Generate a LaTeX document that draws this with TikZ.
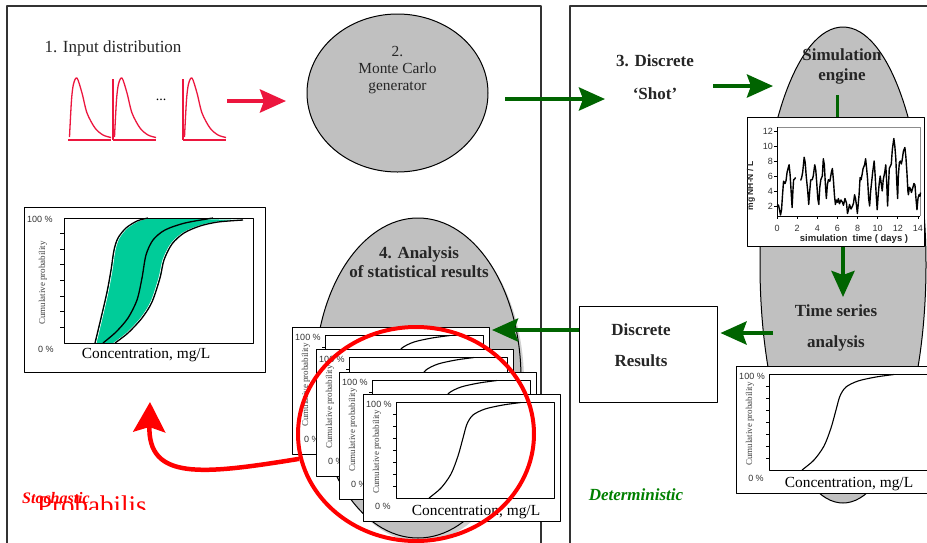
\documentclass[tikz,border=0pt]{standalone}
\usepackage{fontspec}
\setmainfont{Liberation Serif}
\setsansfont{Liberation Sans}
\usetikzlibrary{arrows.meta,shapes.geometric}
\definecolor{pulsered}{RGB}{236,22,62}
\definecolor{hotred}{RGB}{255,0,0}
\definecolor{darkgrn}{RGB}{0,100,0}
\definecolor{detgrn}{RGB}{0,128,0}
\definecolor{blobgray}{RGB}{192,192,192}
\definecolor{bandteal}{RGB}{0,204,153}
\tikzset{
  panel/.style={draw=black!80, line width=1.2pt},
  blob/.style={ellipse, draw, fill=blobgray, line width=1pt, inner sep=0pt},
  steplabel/.style={font=\bfseries\fontsize{17}{31}\selectfont, align=center, inner sep=0pt, text=black!85},
  fatarrow/.style={line width=4.2pt, -{Stealth[length=26pt,width=23pt,inset=4pt]}},
  grnarrow/.style={fatarrow, darkgrn},
  cardbox/.style={draw, fill=white, line width=1pt, minimum width=197pt, minimum height=127pt, inner sep=0pt},
  pctlabel/.style={font=\sffamily\fontsize{9}{10}\selectfont, inner sep=0pt, text=black!80},
  cumlabel/.style={font=\fontsize{9}{10}\selectfont, rotate=90, inner sep=0pt, text=black!75},
  conclabel/.style={font=\fontsize{15.4}{17}\selectfont, inner sep=0pt, anchor=base},
  tslabel/.style={font=\sffamily\fontsize{9}{10}\selectfont, inner sep=0pt, text=black!80},
}
% one cumulative probability card, #1 name, #2 top left corner
\newcommand\cdfcard[2]{%
  \node[cardbox, anchor=north west] (#1) at (#2) {};
  \begin{scope}[shift={(#1.north west)}]
    \draw[line width=0.9pt] (33,8) rectangle (191,104);
    \foreach \k in {1,...,7}
      \draw[line width=0.7pt] (33,{8+12*\k}) -- ++(-3,0);
    \node[pctlabel] (#1-top) at (16,10) {100 \%};
    \node[pctlabel] (#1-bot) at (20,112) {0 \%};
    \node[cumlabel] (#1-yl) at (14,58) {Cumulative probability};
    \node[conclabel] (#1-xl) at (113,121) {Concentration, mg/L};
    \draw[line width=1.1pt] plot[smooth] coordinates {(66,104) (78,94) (88,80) (95,62) (100,44) (104,30) (110,21) (122,15) (140,11) (158,8.5)};
  \end{scope}}
\begin{document}
\begin{tikzpicture}[x=1pt,y=-1pt,line join=round]
  \useasboundingbox (0,0) rectangle (927,542);
  \clip (0,0) rectangle (927,542);
  \fill[white] (0,0) rectangle (927,542);
  % the two panels
  \draw[panel] (7,6) rectangle (541,560);
  \draw[panel] (570,6) rectangle (940,560);

  % 1. input distribution
  \node[font=\fontsize{17}{20}\selectfont, text=black!85, anchor=base, inner sep=0pt] (inlab) at (113,52) {1. Input distribution};
  \foreach \px/\bar in {68/0,113/1,183/1}{
    \begin{scope}[shift={(\px,0)}, pulsered, line width=1.3pt]
      \draw (0,140) -- (43,140);
      \ifnum\bar=1 \draw (0,79) -- (0,140); \fi
      \draw plot[smooth] coordinates {(1.5,137) (3.5,100) (5.5,84) (9,78) (14,93) (19,113) (27,128) (35,135) (43,137.5)};
    \end{scope}}
  \node[font=\fontsize{14}{16}\selectfont, anchor=base, inner sep=0pt] (dots) at (161,100) {...};
  \coordinate (pulseEnd) at (227,101);
  \coordinate (mcIn) at (286,101);
  \draw[fatarrow, pulsered] (pulseEnd) -- (mcIn);

  % 2. Monte Carlo generator
  \node[blob, minimum width=181pt, minimum height=158pt] (mc) at (397.5,93) {};
  \node[font=\fontsize{15.4}{17}\selectfont, align=center, inner sep=0pt, anchor=north, text=black!85] (mclab) at (397.5,46.5) {2.\\Monte Carlo\\generator};
  \coordinate (mcOut) at (505,99);
  \coordinate (shotIn) at (605,99);
  \draw[grnarrow] (mcOut) -- (shotIn);

  % 3. discrete shot
  \node[steplabel, font=\bfseries\fontsize{17}{33}\selectfont, anchor=north] (shot) at (655,54.4) {3. Discrete\\`Shot'};
  \coordinate (shotOut) at (713,86);
  \coordinate (simIn) at (773,86);
  \draw[grnarrow] (shotOut) -- (simIn);

  % simulation engine
  \node[blob, minimum width=166pt, minimum height=476pt] (sim) at (843,265) {};
  \node[steplabel, font=\bfseries\fontsize{17}{20}\selectfont, anchor=north] (simlab) at (842,48.4) {Simulation\\engine};
  \node[draw, fill=white, line width=1pt, minimum width=177pt, minimum height=129pt, inner sep=0pt] (ts) at (835.5,181.5) {};
  \coordinate (engineFoot) at (837,95);
  \draw[darkgrn, line width=3pt] (engineFoot) -- ([xshift=1.5pt]ts.north);
  \draw[black!45, line width=0.8pt] (777,127) -- (920,127) -- (920,216);
  \draw[line width=0.8pt] (777,127) -- (777,216) -- (920,216);
  \foreach \v in {2,4,...,12}{
    \draw[line width=0.7pt] (777,{221-7.5*\v}) -- ++(-3,0);
    \node[tslabel, anchor=east] (tsy\v) at (773,{221-7.5*\v}) {\v};}
  \foreach \d in {0,2,...,14}{
    \draw[line width=0.7pt] ({777+10.07*\d},216) -- ++(0,3);
    \node[tslabel] (tsx\d) at ({777+10.07*\d},228) {\d};}
  \node[tslabel, font=\sffamily\bfseries\fontsize{9.5}{10}\selectfont, text=black!85] (tsxl) at (854,239) {simulation\ \ time ( days )};
  \node[tslabel, font=\sffamily\bfseries\fontsize{8.5}{10}\selectfont, rotate=90, text=black!85] (tsyl) at (751,186) {mg NH-N / L};
  \begin{scope}[shift={(777,221)}, x=10.07pt, y=7.5pt, line width=1.4pt]
    \draw plot coordinates {(0,2.2) (0.15,2.1) (0.25,1.5) (0.35,0.8) (0.45,1.5) (0.55,3.5) (0.65,5.3) (0.8,5) (0.9,5.4) (1.0,6.5) (1.1,7) (1.2,7.5) (1.3,6.2) (1.4,4) (1.5,1.8) (1.58,4) (1.65,5.5) (1.75,5.6) (1.85,5.8)};
    \draw plot coordinates {(2.35,5.4) (2.45,5.8) (2.55,6.5) (2.7,8.5) (2.8,7.8) (2.9,6) (3.05,4) (3.15,2.2) (3.25,4) (3.35,5.5) (3.5,5.5) (3.6,6) (3.75,7.5) (3.85,6.8) (3.95,5) (4.05,3) (4.15,2.2) (4.25,4.5) (4.35,5.5) (4.5,6) (4.6,8.3) (4.7,7.5) (4.8,5) (4.9,3) (5,4.8) (5.1,5.5) (5.25,5.3) (5.4,6.5) (5.5,7) (5.6,5.5) (5.7,3.5) (5.8,2.2) (5.9,2.8) (6.0,2.5) (6.1,3) (6.2,2.3) (6.35,2.8) (6.5,2.5) (6.6,2.1) (6.75,3) (6.9,2.4) (7,1) (7.1,1.5) (7.2,2.2) (7.35,1.6) (7.5,2) (7.6,2.4) (7.7,3.5) (7.8,3) (7.9,2) (7.98,1) (8.05,2) (8.15,3.5) (8.25,5.8) (8.35,5.5) (8.45,6.2) (8.55,7) (8.7,7.5) (8.8,8.3) (8.9,7) (9.0,5.5) (9.1,3) (9.2,2) (9.3,4) (9.4,5.2) (9.5,6.5) (9.6,7.5) (9.65,8) (9.75,6) (9.85,3.5) (9.95,1.5) (10.05,3.5) (10.15,5) (10.25,6) (10.35,5) (10.45,4) (10.55,5.5) (10.7,6.5) (10.8,7.5) (10.9,5) (10.98,2) (11.05,4) (11.15,7) (11.25,7.3) (11.35,7.6) (11.45,9.5) (11.55,10.5) (11.6,11) (11.7,10) (11.8,8.3) (11.9,5) (11.98,3) (12.05,6) (12.15,7.8) (12.25,8) (12.35,7.6) (12.45,8.3) (12.55,9.3) (12.7,9.8) (12.8,8.5) (12.9,6.5) (13.0,4) (13.05,3.5) (13.15,4.5) (13.25,4.3) (13.35,3.8) (13.5,4.5) (13.6,5) (13.7,4.8) (13.8,3) (13.9,1.5) (14.0,3) (14.1,3.5) (14.2,3.3) (14.25,3.8)};
  \end{scope}
  \coordinate (tsaIn) at (843,297);
  \draw[grnarrow] ([xshift=7.5pt]ts.south) -- (tsaIn);

  % time series analysis and discrete results
  \node[steplabel, anchor=north] (tsa) at (836,304.4) {Time series\\analysis};
  \cdfcard{rcard}{736,366}
  \node[draw, line width=1pt, minimum width=138pt, minimum height=96pt, inner sep=0pt] (dr) at (648,354) {};
  \node[steplabel, anchor=north] (drlab) at ([xshift=-7pt,yshift=-18.4pt]dr.north) {Discrete\\Results};
  \coordinate (tsaOut) at (773,333);
  \draw[grnarrow] (tsaOut) -- ([xshift=3pt,yshift=21pt]dr.east);
  \node[font=\bfseries\itshape\fontsize{17}{20}\selectfont, text=detgrn, anchor=base, inner sep=0pt] (detlab) at (636,500) {Deterministic};

  % 4. analysis of statistical results
  \node[blob, draw=none, fill=black!18, minimum width=206pt, minimum height=320pt] (anashade) at (421,382) {};
  \node[blob, minimum width=206pt, minimum height=320pt] (ana) at (418,378) {};
  \node[steplabel, font=\bfseries\fontsize{17}{19}\selectfont, anchor=north] (analab) at (419,246.4) {4. Analysis\\of statistical results};
  \cdfcard{card1}{292,327}
  \cdfcard{card2}{316,349}
  \cdfcard{card3}{339,372}
  \cdfcard{card4}{363,394}
  \draw[grnarrow] ([yshift=24pt]dr.west) -- ([xshift=2pt,yshift=-3pt]card1.north east);

  % probabilistic result chart
  \node[draw, fill=white, line width=1pt, minimum width=241pt, minimum height=165pt, inner sep=0pt] (lc) at (144.5,289.5) {};
  \fill[bandteal] plot[smooth] coordinates {(95,343) (101,318) (107,292) (111,270) (114,250) (118,238) (126,228) (137,221) (148,218)}
    -- plot[smooth] coordinates {(243,220) (218,222) (200,226) (184,233) (172,244) (164,260) (160,278) (152,302) (142,318) (128,333) (115,343)} -- cycle;
  \draw[white, line width=0.8pt, xshift=1.1pt] plot[smooth] coordinates {(95,343) (101,318) (107,292) (111,270) (114,250) (118,238) (126,228) (137,221) (148,218)};
  \draw[line width=1.3pt] plot[smooth] coordinates {(95,343) (101,318) (107,292) (111,270) (114,250) (118,238) (126,228) (137,221) (148,218)};
  \draw[white, line width=0.8pt, xshift=-1.1pt] plot[smooth] coordinates {(115,343) (128,333) (142,318) (152,302) (160,278) (164,260) (172,244) (184,233) (200,226) (218,222) (243,220)};
  \draw[line width=1.3pt] plot[smooth] coordinates {(115,343) (128,333) (142,318) (152,302) (160,278) (164,260) (172,244) (184,233) (200,226) (218,222) (243,220)};
  \draw[line width=1.3pt] plot[smooth] coordinates {(103,343) (116,332) (128,318) (137,300) (142,278) (146,255) (153,240) (165,230) (185,223) (213,218)};
  \draw[line width=0.9pt] (64,218) rectangle (253,343);
  \foreach \k in {1,...,7}
    \draw[line width=0.7pt] (64,{218+15.6*\k}) -- ++(-4,0);
  \node[pctlabel] (lctop) at (40,219) {100 \%};
  \node[pctlabel] (lcbot) at (46,349) {0 \%};
  \node[cumlabel] (lcyl) at (43,283) {Cumulative probability};
  \node[conclabel] (lcxl) at (146,358) {Concentration, mg/L};

  % red ring and return arrow
  \node[ellipse, draw=hotred, line width=4pt, minimum width=236pt, minimum height=214pt, inner sep=0pt] (hot) at (416,434) {};
  \coordinate (backTip) at (150,402);
  \draw[hotred, line width=4.5pt, -{Stealth[length=30pt,width=32pt,inset=5pt]}] (hot.192) .. controls (200,475) and (148,480) .. (backTip);
  \begin{scope}
    \clip (0,0) rectangle (300,509);
    \node[font=\fontsize{27}{30}\selectfont, text=hotred, anchor=base west, inner sep=0pt] (problab) at (37,514) {Probabilis};
  \end{scope}
  \node[font=\bfseries\itshape\fontsize{16}{18}\selectfont, text=hotred, anchor=base west, inner sep=0pt] (stolab) at (22,503) {Stochastic};
\end{tikzpicture}
\end{document}
